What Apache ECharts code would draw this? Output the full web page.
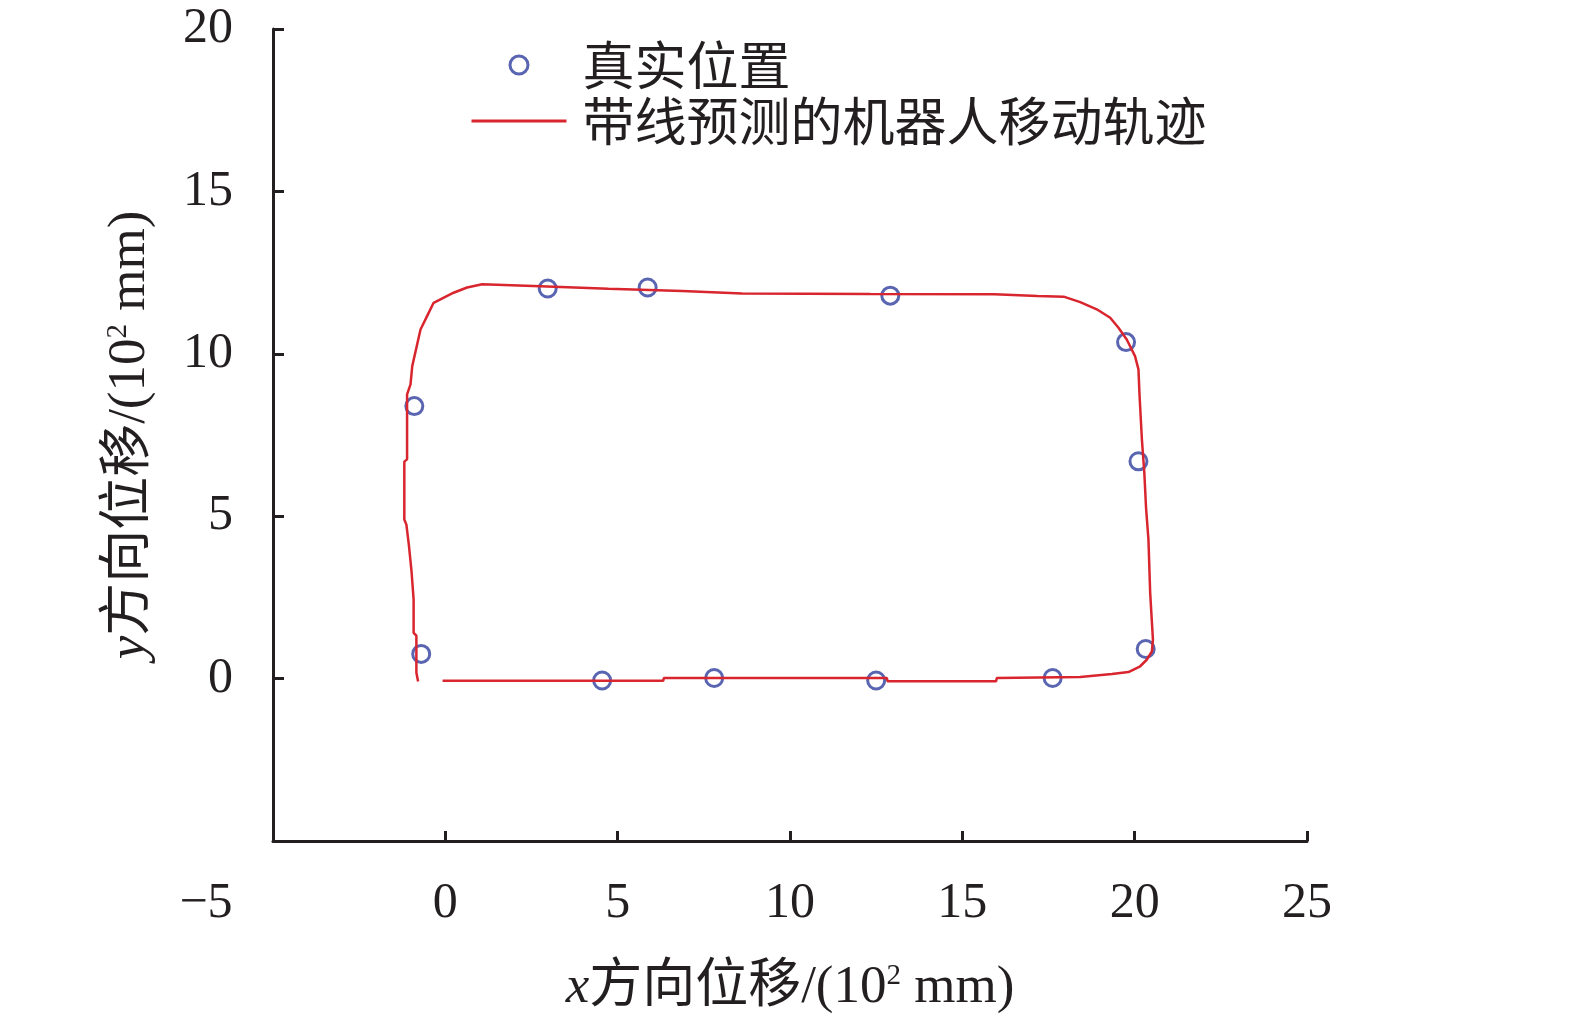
<!DOCTYPE html>
<html>
<head>
<meta charset="utf-8">
<script src="https://cdn.jsdelivr.net/npm/echarts@6/dist/echarts.min.js"></script>
<style>html,body{margin:0;padding:0;background:#fff;}#c{width:1575px;height:1018px;}</style>
</head>
<body>
<div id="c"></div>
<script>
// True positions (10^2 mm)
var trueX = [-0.70, 4.55, 7.80, 12.50, 17.62, 20.32, 20.11, 19.75, 12.91, 5.87, 2.97, -0.90];
var trueY = [0.76, -0.06, 0.02, -0.06, 0.02, 0.91, 6.69, 10.36, 11.79, 12.04, 12.01, 8.39];

// Predicted trajectory (10^2 mm)
var trajX = [-0.08, 6.32, 6.34, 12.81, 12.83, 15.98, 16.00, 18.42, 19.34, 19.82, 20.16, 20.35, 20.50, 20.53,
  20.45, 20.40, 20.33, 20.28, 20.21, 20.14, 20.11, 20.01, 19.77, 19.53, 19.29, 18.90, 18.42, 17.94, 17.18,
  15.93, 12.33, 8.61, 6.87, 4.73, 2.76, 1.07, 0.63, 0.24, -0.34, -0.53, -0.72, -0.96, -1.01, -1.11, -1.11,
  -1.19, -1.19, -1.13, -1.06, -0.98, -0.92, -0.92, -0.84, -0.84, -0.79];
var trajY = [-0.07, -0.07, 0.02, 0.02, -0.08, -0.08, 0.02, 0.05, 0.14, 0.20, 0.38, 0.58, 0.84, 1.20,
  2.64, 4.28, 5.26, 6.34, 7.36, 8.75, 9.52, 9.93, 10.44, 10.80, 11.11, 11.37, 11.59, 11.76, 11.78,
  11.83, 11.84, 11.86, 11.93, 12.00, 12.08, 12.14, 12.04, 11.88, 11.57, 11.16, 10.75, 9.62, 9.06, 8.75, 6.75,
  6.68, 4.90, 4.74, 4.13, 3.29, 2.43, 1.41, 1.32, 0.18, -0.09];

var seriesNames = ['真实位置', '带线预测的机器人移动轨迹'];
var xName = '{i|x}方向位移/(10{s|2} mm)';
var yName = '{i|y}方向位移/(10{s|2} mm)';

var FONT = "'Liberation Serif', 'Noto Sans CJK SC', serif";
var INK = '#231f20';
var BLUE = '#2f3e9e';
var RED = '#d9252e';

var trueData = trueX.map(function (v, i) { return [v, trueY[i]]; });
var trajData = trajX.map(function (v, i) { return [v, trajY[i]]; });

var nameRich = {
  i: { fontStyle: 'italic', fontFamily: "'Liberation Serif', serif", fontSize: 53, color: INK },
  s: { fontSize: 29, fontFamily: "'Liberation Serif', serif", verticalAlign: 'top', color: INK }
};

var chart = echarts.init(document.getElementById('c'));
chart.setOption({
  animation: false,
  backgroundColor: '#fff',
  grid: { left: 273, right: 268, top: 29, bottom: 177, outerBoundsMode: 'none', containLabel: false },
  legend: {
    orient: 'vertical',
    left: 465,
    top: 34,
    itemWidth: 95,
    itemHeight: 18,
    itemGap: 4,
    textStyle: { fontSize: 52, fontFamily: "'Noto Sans CJK SC', sans-serif", color: INK, lineHeight: 52, padding: [0, 0, 0, 11] },
    data: [
      { name: seriesNames[0], icon: 'circle', itemStyle: { color: 'rgba(255,255,255,0)', borderColor: BLUE, borderWidth: 3 } },
      { name: seriesNames[1], itemStyle: { opacity: 0 }, lineStyle: { color: RED, width: 3 } }
    ]
  },
  xAxis: {
    type: 'value', min: -5, max: 25, interval: 5,
    name: xName, nameLocation: 'middle', nameGap: 121,
    nameTextStyle: { fontSize: 53, fontFamily: FONT, color: INK, rich: nameRich },
    axisLine: { onZero: false, lineStyle: { color: INK, width: 3 } },
    axisTick: { inside: true, length: 10, lineStyle: { color: INK, width: 3 } },
    splitLine: { show: false },
    axisLabel: {
      margin: 38, fontSize: 50, fontFamily: FONT, color: INK,
      formatter: function (v) { return v < 0 ? '{neg|−' + Math.abs(v) + '}' : String(v); },
      rich: { neg: { fontSize: 50, fontFamily: FONT, color: INK, padding: [0, 134, 0, 0] } }
    }
  },
  yAxis: {
    type: 'value', min: -5, max: 20, interval: 5,
    name: yName, nameLocation: 'middle', nameGap: 116,
    nameTextStyle: { fontSize: 53, fontFamily: FONT, color: INK, rich: nameRich },
    axisLine: { onZero: false, lineStyle: { color: INK, width: 3 } },
    axisTick: { inside: true, length: 11, lineStyle: { color: INK, width: 3 } },
    splitLine: { show: false },
    axisLabel: {
      margin: 40, fontSize: 50, fontFamily: FONT, color: INK,
      formatter: function (v) { return v < 0 ? '' : String(v); }
    }
  },
  series: [
    {
      name: seriesNames[0], type: 'scatter', data: trueData,
      symbol: 'circle', symbolSize: 17,
      itemStyle: { color: 'rgba(255,255,255,0)', borderColor: BLUE, borderWidth: 3 },
      z: 2
    },
    {
      name: seriesNames[1], type: 'line', data: trajData,
      showSymbol: false, symbol: 'none', smooth: false,
      lineStyle: { color: RED, width: 2.5 },
      itemStyle: { color: RED },
      z: 3
    }
  ]
});
</script>
</body>
</html>
